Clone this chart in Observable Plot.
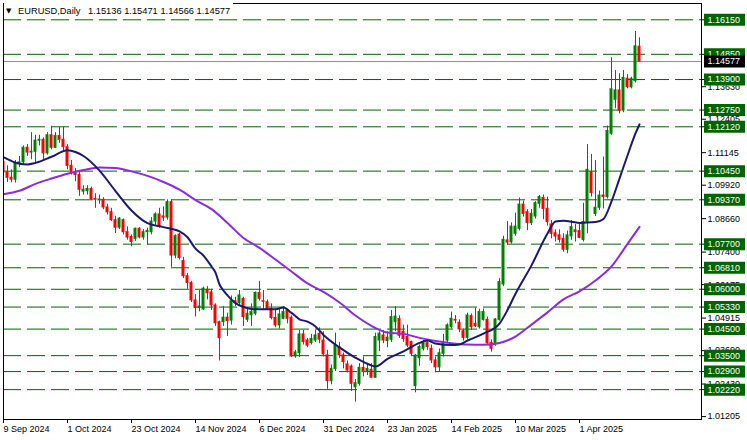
<!DOCTYPE html>
<html>
<head>
<meta charset="utf-8">
<script src="https://cdn.jsdelivr.net/npm/d3@7"></script>
<script src="https://cdn.jsdelivr.net/npm/@observablehq/plot@0.6"></script>
<style>
  body { margin: 0; background: #fff; }
  #wrap { position: relative; width: 747px; height: 440px; overflow: hidden; }
  #titlebox { position: absolute; left: 4px; top: 1px; width: 229px; height: 16px; background: #fff; }
  .tt { position: absolute; top: 6px; font: 9.3px "Liberation Sans", Arial, sans-serif; line-height: 10px; color: #000; white-space: pre; }
  .tri { position: absolute; top: 6px; left: 6px; font: 7px "DejaVu Sans", sans-serif; line-height: 10px; color: #000; }
</style>
</head>
<body>
<div id="wrap">
</div>
<script>
// ---------- data ----------
const symbolTitle = "EURUSD,Daily";
const titleValues = "1.15136 1.15471 1.14566 1.14577";

const tickBars = [0, 16, 32, 48, 64, 80, 96, 112, 128, 144];
const tickLabels = ["9 Sep 2024", "1 Oct 2024", "23 Oct 2024", "14 Nov 2024", "6 Dec 2024",
                    "31 Dec 2024", "23 Jan 2025", "14 Feb 2025", "10 Mar 2025", "1 Apr 2025"];

const opens = [1.1080,1.1040,1.1020,1.1013,1.1075,1.1078,1.1133,1.1115,1.1118,1.1160,
 1.1163,1.1112,1.1180,1.1133,1.1177,1.1163,1.1135,1.1065,1.1040,1.1030,
 1.0968,1.0970,1.0978,1.0940,1.0935,1.0937,1.0908,1.0890,1.0860,1.0832,
 1.0860,1.0815,1.0797,1.0790,1.0828,1.0795,1.0815,1.0815,1.0855,1.0882,
 1.0874,1.0870,1.0928,1.0727,1.0806,1.0706,1.0649,1.0623,1.0558,1.0530,
 1.0524,1.0598,1.0588,1.0539,1.0476,1.0476,1.0493,1.0482,1.0555,1.0548,
 1.0564,1.0485,1.0502,1.0508,1.0586,1.0555,1.0551,1.0526,1.0492,1.0464,
 1.0489,1.0520,1.0493,1.0347,1.0359,1.0430,1.0407,1.0397,1.0407,1.0432,
 1.0407,1.0351,1.0254,1.0300,1.0382,1.0351,1.0317,1.0309,1.0231,1.0244,
 1.0304,1.0288,1.0297,1.0267,1.0407,1.0426,1.0405,1.0410,1.0476,1.0488,
 1.0440,1.0420,1.0401,1.0235,1.0340,1.0376,1.0397,1.0376,1.0332,1.0306,
 1.0357,1.0407,1.0457,1.0485,1.0474,1.0442,1.0417,1.0499,1.0470,1.0457,
 1.0485,1.0485,1.0398,1.0398,1.0485,1.0618,1.0784,1.0777,1.0809,1.0828,
 1.0919,1.0890,1.0849,1.0874,1.0922,1.0944,1.0903,1.0844,1.0811,1.0803,
 1.0790,1.0749,1.0799,1.0822,1.0819,1.0786,1.0853,1.1041,1.0884,1.0907,
 1.0953,1.0947,1.1186,1.1314,1.1349,1.1273,1.1393,1.1361,1.1384,1.15136];

const highs = [1.1090,1.1065,1.1050,1.1085,1.1100,1.1140,1.1145,1.1190,1.1180,1.1180,
 1.1170,1.1190,1.1214,1.1190,1.1210,1.1210,1.1145,1.1085,1.1055,1.1040,
 1.0990,1.0990,1.0985,1.0960,1.0955,1.0945,1.0920,1.0905,1.0875,1.0870,
 1.0865,1.0835,1.0805,1.0830,1.0832,1.0825,1.0830,1.0870,1.0888,1.0905,
 1.0910,1.0937,1.0937,1.0805,1.0810,1.0720,1.0660,1.0630,1.0580,1.0595,
 1.0608,1.0610,1.0600,1.0545,1.0480,1.0535,1.0510,1.0575,1.0570,1.0595,
 1.0570,1.0530,1.0545,1.0590,1.0630,1.0595,1.0560,1.0545,1.0525,1.0525,
 1.0535,1.0525,1.0500,1.0370,1.0445,1.0445,1.0415,1.0430,1.0445,1.0455,
 1.0440,1.0370,1.0315,1.0435,1.0400,1.0360,1.0330,1.0315,1.0260,1.0320,
 1.0345,1.0320,1.0320,1.0435,1.0440,1.0445,1.0440,1.0520,1.0535,1.0500,
 1.0465,1.0465,1.0405,1.0355,1.0390,1.0407,1.0410,1.0390,1.0345,1.0375,
 1.0430,1.0470,1.0514,1.0501,1.0485,1.0450,1.0510,1.0507,1.0529,1.0525,
 1.0526,1.0495,1.0410,1.0490,1.0640,1.0800,1.0855,1.0850,1.0887,1.0944,
 1.0932,1.0900,1.0900,1.0930,1.0953,1.0955,1.0947,1.0859,1.0824,1.0824,
 1.0809,1.0819,1.0859,1.0844,1.0844,1.0924,1.1145,1.1108,1.1085,1.0970,
 1.1098,1.1215,1.1472,1.1424,1.1412,1.1424,1.1409,1.1399,1.1571,1.15471];

const lows = [1.1030,1.1002,1.1001,1.1000,1.1058,1.1068,1.1100,1.1088,1.1070,1.1140,
 1.1085,1.1105,1.1125,1.1130,1.1150,1.1120,1.1050,1.1030,1.1005,1.0950,
 1.0955,1.0955,1.0935,1.0905,1.0920,1.0900,1.0880,1.0855,1.0810,1.0825,
 1.0805,1.0785,1.0760,1.0780,1.0790,1.0785,1.0765,1.0805,1.0840,1.0830,
 1.0855,1.0860,1.0683,1.0715,1.0710,1.0640,1.0600,1.0550,1.0496,1.0515,
 1.0520,1.0560,1.0520,1.0460,1.0330,1.0460,1.0422,1.0465,1.0535,1.0535,
 1.0460,1.0475,1.0460,1.0500,1.0555,1.0520,1.0520,1.0485,1.0455,1.0450,
 1.0485,1.0470,1.0343,1.0340,1.0343,1.0390,1.0380,1.0390,1.0400,1.0395,
 1.0345,1.0223,1.0240,1.0290,1.0340,1.0300,1.0285,1.0215,1.0175,1.0235,
 1.0270,1.0275,1.0265,1.0265,1.0365,1.0395,1.0380,1.0400,1.0440,1.0415,
 1.0400,1.0380,1.0350,1.0210,1.0310,1.0367,1.0370,1.0320,1.0285,1.0290,
 1.0345,1.0395,1.0450,1.0470,1.0437,1.0405,1.0410,1.0445,1.0456,1.0450,
 1.0480,1.0390,1.0363,1.0385,1.0480,1.0610,1.0765,1.0770,1.0800,1.0820,
 1.0872,1.0821,1.0840,1.0865,1.0905,1.0862,1.0838,1.0790,1.0778,1.0774,
 1.0740,1.0734,1.0784,1.0778,1.0790,1.0778,1.0809,1.0947,1.0874,1.0897,
 1.0903,1.0940,1.1180,1.1280,1.1261,1.1265,1.1355,1.1355,1.1377,1.14566];

const closes = [1.1040,1.1020,1.1013,1.1075,1.1078,1.1133,1.1115,1.1118,1.1160,1.1163,
 1.1112,1.1180,1.1133,1.1177,1.1163,1.1135,1.1065,1.1040,1.1030,1.0975,
 1.0975,1.0978,1.0940,1.0937,1.0938,1.0908,1.0890,1.0860,1.0832,1.0866,
 1.0815,1.0795,1.0778,1.0828,1.0795,1.0815,1.0820,1.0855,1.0882,1.0837,
 1.0870,1.0928,1.0727,1.0800,1.0718,1.0649,1.0624,1.0558,1.0530,1.0535,
 1.0602,1.0585,1.0539,1.0472,1.0416,1.0493,1.0480,1.0555,1.0550,1.0577,
 1.0495,1.0508,1.0514,1.0586,1.0564,1.0553,1.0526,1.0492,1.0464,1.0505,
 1.0514,1.0489,1.0347,1.0362,1.0430,1.0401,1.0388,1.0413,1.0426,1.0410,
 1.0355,1.0254,1.0300,1.0388,1.0351,1.0326,1.0294,1.0244,1.0246,1.0304,
 1.0288,1.0300,1.0267,1.0420,1.0433,1.0407,1.0418,1.0495,1.0497,1.0425,
 1.0413,1.0388,1.0357,1.0350,1.0382,1.0397,1.0382,1.0332,1.0306,1.0359,
 1.0395,1.0464,1.0489,1.0482,1.0449,1.0417,1.0501,1.0457,1.0461,1.0514,
 1.0514,1.0397,1.0376,1.0486,1.0627,1.0786,1.0776,1.0836,1.0836,1.0919,
 1.0884,1.0849,1.0884,1.0924,1.0947,1.0903,1.0853,1.0809,1.0799,1.0786,
 1.0749,1.0803,1.0834,1.0815,1.0794,1.0853,1.1050,1.0962,1.0907,1.0953,
 1.0947,1.1196,1.1353,1.1349,1.1273,1.1396,1.1361,1.1393,1.1515,1.14577];

// fast moving average (navy) at these bars
const maFastBars = [0,4,6,8,12,16,18,20,24,28,32,36,40,44,46,48,50,52,53,54,55,56,58,60,62,64,68,70,72,74,76,78,80,84,88,92,93,96,100,104,106,108,112,114,116,120,124,126,128,132,136,138,140,144,148,150,152,154,156,158,159];
const maFastValues = [1.1098,1.1073,1.1070,1.1076,1.1099,1.1124,1.1117,1.1102,1.1047,1.0970,1.0897,1.0849,1.0834,1.0818,1.0796,1.0753,1.0727,1.0686,1.0663,1.0618,1.0595,1.0577,1.0548,1.0533,1.0526,1.0525,1.0525,1.0531,1.0511,1.0487,1.0478,1.0460,1.0428,1.0381,1.0342,1.0313,1.0309,1.0338,1.0366,1.0398,1.0407,1.0396,1.0390,1.0392,1.0407,1.0433,1.0471,1.0522,1.0583,1.0690,1.0810,1.0855,1.0858,1.0850,1.0853,1.0865,1.0931,1.1017,1.1104,1.1187,1.1221];

// slow moving average (purple) at these bars
const maSlowBars = [0,4,8,12,16,20,24,28,32,36,40,44,48,52,56,60,64,68,72,76,80,84,88,92,96,100,104,108,112,116,120,124,128,132,136,140,144,148,152,156,159];
const maSlowValues = [1.0958,1.0971,1.0997,1.1017,1.1035,1.1049,1.1059,1.1057,1.1044,1.1027,1.1004,1.0975,1.0936,1.0902,1.0850,1.0793,1.0756,1.0712,1.0667,1.0622,1.0590,1.0550,1.0501,1.0462,1.0437,1.0432,1.0417,1.0405,1.0397,1.0392,1.0391,1.0398,1.0422,1.0467,1.0513,1.0562,1.0592,1.0633,1.0686,1.0771,1.0835];

const levels = [1.16150, 1.14850, 1.13900, 1.12750, 1.12120, 1.10450, 1.09370, 1.07700,
                1.06810, 1.06000, 1.05330, 1.04500, 1.03500, 1.02900, 1.02220];
const priceTicks = [1.13630, 1.12405, 1.11145, 1.09920, 1.08660, 1.07400, 1.06175,
                    1.04915, 1.03690, 1.02430, 1.01205];
const lastPrice = 1.14577;

// ---------- build ----------
const bars = opens.map((o, i) => ({i, o, h: highs[i], l: lows[i], c: closes[i]}));
const upBars = bars.filter(d => d.c >= d.o);
const downBars = bars.filter(d => d.c < d.o);
const maFast = maFastBars.map((i, k) => ({i, v: maFastValues[k]}));
const maSlow = maSlowBars.map((i, k) => ({i, v: maSlowValues[k]}));

const UP = "#008000", DOWN = "#ff0000", LEVEL = "#006400";
const boxSymbol = { draw(ctx) { ctx.rect(-20.5, -6, 41, 12); } };

const chart = Plot.plot({
  width: 747, height: 440,
  marginLeft: 3, marginRight: 46, marginTop: 3, marginBottom: 21,
  style: {fontFamily: "'Liberation Sans', Arial, sans-serif", fontSize: "9px", background: "#fff", color: "#000", overflow: "visible"},
  x: {type: "linear", domain: [0, 174.5], axis: null, label: null},
  y: {domain: [1.01095, 1.16764], axis: null, label: null},
  marks: [
    Plot.ruleY(levels, {y: d => d, stroke: LEVEL, strokeDasharray: "18,6"}),
    Plot.ruleY([lastPrice], {y: d => d, stroke: "#8c8c8c"}),
    Plot.ruleX(upBars, {x: "i", y1: "l", y2: "h", stroke: UP, clip: true}),
    Plot.ruleX(downBars, {x: "i", y1: "l", y2: "h", stroke: DOWN, clip: true}),
    Plot.rect(upBars, {x1: d => d.i - 0.25, x2: d => d.i + 0.25, y1: "o", y2: "c", fill: UP, stroke: UP, clip: true}),
    Plot.rect(downBars, {x1: d => d.i - 0.25, x2: d => d.i + 0.25, y1: "o", y2: "c", fill: DOWN, stroke: DOWN, clip: true}),
    Plot.line(maSlow, {x: "i", y: "v", stroke: "#8a2be2", strokeWidth: 2, curve: "monotone-x", clip: true}),
    Plot.line(maFast, {x: "i", y: "v", stroke: "#191970", strokeWidth: 2, curve: "monotone-x", clip: true}),
    Plot.axisX({ticks: tickBars, tickFormat: d => tickLabels[tickBars.indexOf(d)], tickSize: 4, tickPadding: 2, textAnchor: "start", anchor: "bottom", fontSize: 9, label: null}),
    Plot.axisY({anchor: "right", ticks: priceTicks, tickFormat: d => d.toFixed(5), tickSize: 4, tickPadding: 2, fontSize: 9, label: null}),
    Plot.axisY({anchor: "right", ticks: levels, tickFormat: () => "", tickSize: 4, label: null}),
    Plot.dot(levels, {y: d => d, frameAnchor: "right", dx: 23, symbol: boxSymbol, fill: LEVEL, stroke: null}),
    Plot.text(levels, {y: d => d, frameAnchor: "right", dx: 6, textAnchor: "start", text: d => d.toFixed(5), fill: "#fff", fontSize: 9}),
    Plot.dot([lastPrice], {y: d => d, frameAnchor: "right", dx: 23, symbol: boxSymbol, fill: "#000", stroke: null}),
    Plot.text([lastPrice], {y: d => d, frameAnchor: "right", dx: 6, textAnchor: "start", text: d => d.toFixed(5), fill: "#fff", fontSize: 9}),
    Plot.frame({stroke: "#000"})
  ]
});

const wrap = document.getElementById("wrap");
wrap.appendChild(chart);
const tb = document.createElement("div"); tb.id = "titlebox"; wrap.appendChild(tb);
const tri = document.createElement("span"); tri.className = "tri"; tri.textContent = "▼"; wrap.appendChild(tri);
const t1 = document.createElement("span"); t1.className = "tt"; t1.style.left = "18px"; t1.textContent = symbolTitle; wrap.appendChild(t1);
const t2 = document.createElement("span"); t2.className = "tt"; t2.style.left = "88px"; t2.textContent = titleValues; wrap.appendChild(t2);
</script>
</body>
</html>
